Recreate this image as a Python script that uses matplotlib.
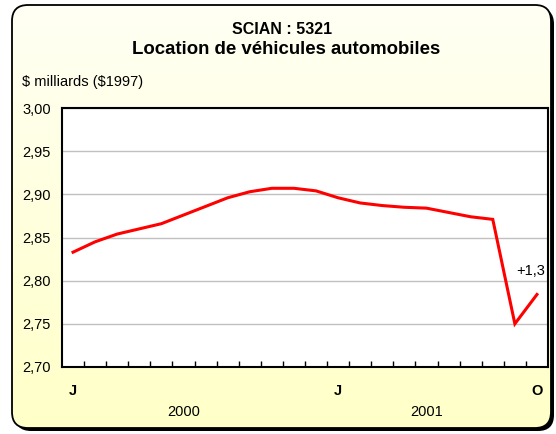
import numpy as np
import matplotlib.pyplot as plt
from matplotlib.patches import FancyBboxPatch
from matplotlib.colors import LinearSegmentedColormap

plt.rcParams['font.family'] = ['Liberation Sans', 'DejaVu Sans']

# Monthly values, Jan 2000 to Oct 2001
values = [2.833, 2.845, 2.854, 2.860, 2.866, 2.876, 2.886, 2.896, 2.903, 2.907,
          2.907, 2.904, 2.896, 2.890, 2.887, 2.885, 2.884, 2.879, 2.874, 2.871,
          2.750, 2.784]
month_ticks = [0, 12, 21]
month_labels = ['J', 'J', 'O']
year_pos = [5, 16]
year_labels = ['2000', '2001']
yticks = [2.70, 2.75, 2.80, 2.85, 2.90, 2.95, 3.00]

fig = plt.figure(figsize=(5.56, 4.34), dpi=100)
W, H = 556, 434

# background: rounded box with a shadow and a soft yellow gradient
bg = fig.add_axes([0, 0, 1, 1], zorder=-2)
bg.set_xlim(0, W)
bg.set_ylim(H, 0)
bg.axis('off')
shadow = FancyBboxPatch((15, 8), 539, 423, boxstyle='round,pad=0,rounding_size=16',
                        fc='black', ec='none')
bg.add_patch(shadow)
box = FancyBboxPatch((12, 5), 539, 423, boxstyle='round,pad=0,rounding_size=16',
                     fc='none', ec='black', lw=1.3, zorder=3)
bg.add_patch(box)
cmap = LinearSegmentedColormap.from_list('bgy', ['#FFFFF4', '#FFFFC8'])
grad = np.linspace(0, 1, 200).reshape(-1, 1)
im = bg.imshow(grad, cmap=cmap, extent=[12, 551, 428, 5], aspect='auto', zorder=1)
im.set_clip_path(box)

ax = fig.add_axes([62 / W, 1 - 367 / H, (548 - 62) / W, (367 - 108) / H])
ax.set_facecolor('white')
x = np.arange(len(values))
ax.plot(x, values, color='#FF0000', lw=2.2, solid_joinstyle='miter', zorder=3)

ax.set_xlim(-0.5, len(values) - 0.5)
ax.set_ylim(2.70, 3.00)
ax.set_yticks(yticks)
ax.set_yticklabels([f'{v:.2f}'.replace('.', ',') for v in yticks], fontsize=10.5)
ax.tick_params(axis='y', length=0, pad=8)
ax.yaxis.grid(True, color='#C0C0C0', lw=1)
ax.set_axisbelow(True)

ax.set_xticks(month_ticks)
ax.set_xticklabels(month_labels, fontsize=10.5, fontweight='bold')
ax.tick_params(axis='x', length=0, pad=12)
ax.set_xticks(np.arange(0.5, len(values) - 1, 1), minor=True)
ax.tick_params(axis='x', which='minor', direction='in', length=4, width=1, color='black')
for s in ax.spines.values():
    s.set_color('black')
    s.set_linewidth(1.5)

for p, lab in zip(year_pos, year_labels):
    ax.text(p, -0.175, lab, transform=ax.get_xaxis_transform(), ha='center',
            va='center', fontsize=10.5)

ax.text(20.7, 2.803, '+1,3', ha='center', va='bottom', fontsize=10.5)

fig.text(282 / W, 1 - 30 / H, 'SCIAN : 5321', ha='center', va='center',
         fontsize=11.5, fontweight='bold')
fig.text(286 / W, 1 - 50 / H, 'Location de véhicules automobiles', ha='center',
         va='center', fontsize=13.4, fontweight='bold')
fig.text(22 / W, 1 - 82 / H, r'\$ milliards (\$1997)', ha='left', va='center',
         fontsize=10.5)

fig.savefig('out.png', dpi=100)
